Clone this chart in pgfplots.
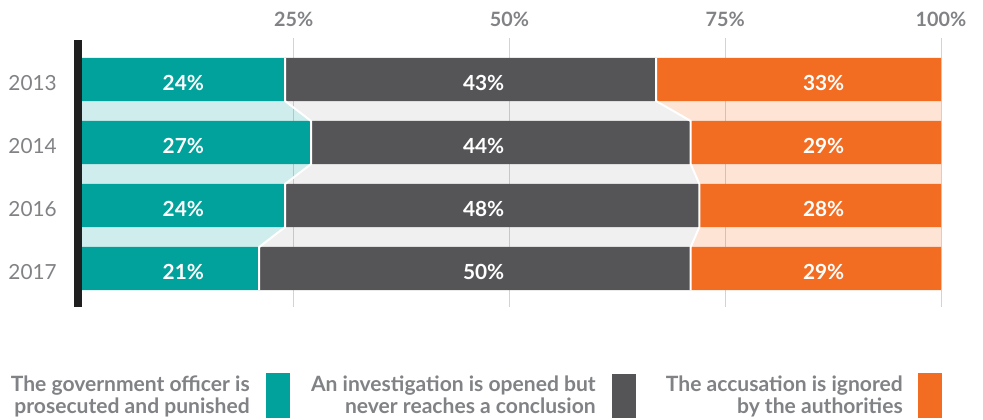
\documentclass[border=0pt]{standalone}
\usepackage{pgfplots}
\pgfplotsset{compat=1.18}
\usepackage{fontspec}
\setmainfont{Lato}

\definecolor{cteal}{HTML}{00A29B}
\definecolor{cgray}{HTML}{555558}
\definecolor{corange}{HTML}{F26D22}
\definecolor{ctext}{HTML}{808285}
\definecolor{cgrid}{HTML}{D3D3D3}

% 1 px of the reference = 0.75pt
\pgfplotsset{
  base/.style={
    at={(58.5pt,-28.5pt)}, anchor=north west,
    scale only axis, width=647.25pt, height=201.75pt,
    xmin=0, xmax=100, ymin=-0.659, ymax=3.611,
    y dir=reverse, clip=false,
  },
}

\begin{document}
\begin{tikzpicture}
\path[use as bounding box] (0,0) rectangle (737.25pt,-314.25pt);

% background: grid, ticks, connecting bands
\begin{axis}[base,
  axis line style={draw=none},
  major tick length=0pt,
  xtick={25,50,75,100},
  xticklabels={25\%,50\%,75\%,100\%},
  xticklabel pos=upper,
  xticklabel style={anchor=base, inner sep=0pt, yshift=9pt,
    font=\fontsize{14.8pt}{16pt}\selectfont\bfseries, text=ctext},
  ytick={0,1,2,3},
  yticklabels={2013,2014,2016,2017},
  yticklabel style={anchor=base east, inner sep=0pt, xshift=-15.75pt, yshift=-7.9pt,
    font=\fontsize{15.6pt}{17pt}\selectfont, text=ctext},
  xmajorgrids, grid style={cgrid, line width=0.75pt},
]
\addplot[fill=cteal, fill opacity=0.19, draw=none] coordinates {
  (0,0) (24,0) (24,0.342) (27,0.658) (27,1.342) (24,1.658)
  (24,2.342) (21,2.658) (21,3) (0,3)} -- cycle;
\addplot[fill=cgray, fill opacity=0.09, draw=none] coordinates {
  (24,0) (67,0) (67,0.342) (71,0.658) (71,1.342) (72,1.658)
  (72,2.342) (71,2.658) (71,3) (21,3) (21,2.658) (24,2.342)
  (24,1.658) (27,1.342) (27,0.658) (24,0.342)} -- cycle;
\addplot[fill=corange, fill opacity=0.19, draw=none] coordinates {
  (67,0) (100,0) (100,3) (71,3) (71,2.658) (72,2.342)
  (72,1.658) (71,1.342) (71,0.658) (67,0.342)} -- cycle;
\end{axis}

% stacked bars
\begin{axis}[base, hide axis, xbar stacked, bar width=0.684]
\addplot[fill=cteal, draw=none] coordinates {(24,0) (27,1) (24,2) (21,3)};
\addplot[fill=cgray, draw=none] coordinates {(43,0) (44,1) (48,2) (50,3)};
\addplot[fill=corange, draw=none] coordinates {(33,0) (29,1) (28,2) (29,3)};
\end{axis}

% white separators, value labels, left axis line
\begin{axis}[base, hide axis]
\addplot[white, line width=1.5pt] coordinates {
  (24,-0.342) (24,0.342) (27,0.658) (27,1.342) (24,1.658)
  (24,2.342) (21,2.658) (21,3.342)};
\addplot[white, line width=1.5pt] coordinates {
  (67,-0.342) (67,0.342) (71,0.658) (71,1.342) (72,1.658)
  (72,2.342) (71,2.658) (71,3.342)};
\addplot[draw=none, nodes near coords, point meta=explicit symbolic,
  nodes near coords style={anchor=base, inner sep=0pt, yshift=-7.9pt,
    text=white, font=\fontsize{15.6pt}{17pt}\selectfont\bfseries}]
  coordinates {
  (12.2,0) [24\%] (12.2,1) [27\%] (12.2,2) [24\%] (12.2,3) [21\%]
  (47,0) [43\%] (47,1) [44\%] (47,2) [48\%] (47,3) [50\%]
  (86.4,0) [33\%] (86.4,1) [29\%] (86.4,2) [28\%] (86.4,3) [29\%]};
\draw[line width=6pt, color=black!88] (axis cs:0,-0.627) -- (axis cs:0,3.611);
\end{axis}

% legend
\begin{scope}[every node/.style={anchor=base east, inner sep=0pt, text=ctext,
    font=\fontsize{15.8pt}{17pt}\selectfont\bfseries}]
\node at (187.5pt,-293.25pt) {The government officer is};
\node at (187.5pt,-309.75pt) {prosecuted and punished};
\node at (447pt,-293.25pt) {An investigation is opened but};
\node at (447pt,-309.75pt) {never reaches a conclusion};
\node at (677.25pt,-293.25pt) {The accusation is ignored};
\node at (677.25pt,-309.75pt) {by the authorities};
\end{scope}
\fill[cteal] (199.5pt,-279.75pt) rectangle (217.5pt,-313.5pt);
\fill[cgray] (459pt,-280.5pt) rectangle (477pt,-313.5pt);
\fill[corange] (688.5pt,-279.75pt) rectangle (706.5pt,-313.5pt);
\end{tikzpicture}
\end{document}
